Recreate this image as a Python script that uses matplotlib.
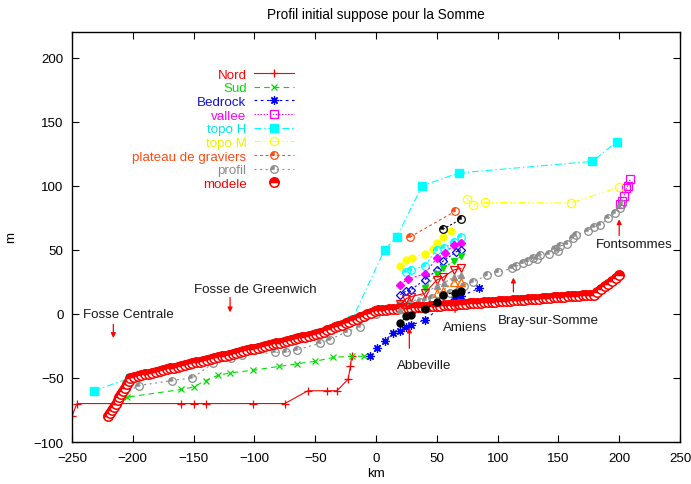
import numpy as np
import matplotlib
matplotlib.use("Agg")
import matplotlib.pyplot as plt
from matplotlib.path import Path
from matplotlib.legend_handler import HandlerTuple

plt.rcParams['font.family'] = ['Liberation Sans', 'DejaVu Sans']
plt.rcParams['font.size'] = 9.6
plt.rcParams['lines.scale_dashes'] = False

# ---------------- data (km along the valley, elevation in m) ----------------
nord_km = [-250, -246, -160, -150, -140, -101, -75, -56, -40, -32, -23, -21, -20]
nord_m = [-80, -70, -70, -70, -70, -70, -70, -60, -60, -60, -51, -41, -33]

sud_km = [-220, -205, -160, -150, -140, -130, -120, -101, -80, -65, -50, -35, -20, -10]
sud_m = [-80, -65, -59, -57, -52, -48, -46, -44, -41, -39, -37, -34, -33, -33]

bedrock_km = [-5, 1, 7, 14, 20, 25, 29, 40, 55, 65, 70, 85]
bedrock_m = [-33, -27, -21, -15, -13.5, -10, -9, -4.5, 6, 13.5, 14, 20]

vallee_km = [201, 202, 204, 206, 207, 209]
vallee_m = [86, 88, 92, 98, 100, 105]

topoH_km = [-232, -202, -46, -20, 7, 17, 38, 68, 178, 198]
topoH_m = [-60, -50, -15, -5, 50, 60, 100, 110, 119, 134.5]

topoM_km = [75, 80, 90, 160, 200]
topoM_m = [90, 85, 87, 86.5, 99]

plateau_km = [28, 65]
plateau_m = [60, 80]

profil_km = [-220, -210, -195, -168, -151, -134, -119, -110, -83, -74, -65, -46, -38,
             -24, -13, -9, 0, 10, 20, 28, 36, 41, 46, 55, 61, 68, 72, 80, 91, 100,
             112, 115, 121, 125, 129, 132, 135, 142, 147, 150, 151, 157, 162, 164.5,
             174, 179, 184, 191, 196.5, 200.5, 202]
profil_m = [-80, -64, -56, -52, -50, -38.5, -34.5, -32, -30, -30, -28, -23, -20,
            -14, -10, -1, 0, 4, 7, 8, 9.5, 11, 12.5, 15, 16, 19, 22, 25, 30, 32.5,
            35.5, 37, 40, 41, 44, 43, 46, 47, 51, 49, 53, 54.5, 59, 61.5,
            65, 68, 69.5, 74.5, 79, 83, 86]

# model profile, sampled every 1.5 km on the steep reach and every 3 km elsewhere
modele_km = np.concatenate([np.arange(-220, -201, 1.5), np.arange(-199, -45, 3),
                            np.arange(-43, 3, 3), np.arange(5, 180, 3),
                            np.arange(182, 201, 3)])
modele_m = [-80, -77.5, -75, -72.5, -70, -67.5, -65, -62.5, -60, -57.5, -55, -52.5, -50,
            -49.3, -48.7, -48.0, -47.3, -46.6, -46.0, -45.3, -44.6, -43.9, -43.3,
            -42.6, -41.9, -41.3, -40.6, -39.9, -39.2, -38.6, -37.9, -37.2, -36.5,
            -35.9, -35.2, -34.5, -33.8, -33.2, -32.5, -31.8, -31.2, -30.5, -29.8,
            -29.1, -28.5, -27.8, -27.1, -26.4, -25.8, -25.1, -24.4, -23.8, -23.1,
            -22.4, -21.7, -21.1, -20.4, -19.7, -19.0, -18.4, -17.7, -17.0, -16.3,
            -15.7, -15.0,
            -13.9, -12.8, -11.6, -10.5, -9.4, -8.3, -7.1, -6.0, -4.9, -3.8, -2.6,
            -1.5, -0.4, 0.8, 1.9, 3.0,
            3.2, 3.4, 3.6, 3.8, 4.0, 4.2, 4.4, 4.6, 4.8, 5.0,
            5.2, 5.4, 5.6, 5.8, 6.0, 6.3, 6.5, 6.7, 6.9, 7.1,
            7.3, 7.5, 7.7, 7.9, 8.1, 8.3, 8.5, 8.7, 8.9, 9.1,
            9.3, 9.5, 9.7, 9.9, 10.1, 10.3, 10.5, 10.7, 10.9, 11.1,
            11.3, 11.5, 11.7, 11.9, 12.2, 12.4, 12.6, 12.8, 13.0, 13.2,
            13.4, 13.6, 13.8, 14.0, 14.2, 14.4, 14.6, 14.8, 15.0,
            17.1, 19.3, 21.4, 23.6, 25.7, 27.9, 30.0]

# terrace levels surveyed between Abbeville and Amiens
t1_km = [20, 25, 30, 40, 47, 50, 55, 62]
t1_m = [37.5, 42, 44, 47, 51, 55, 60, 65]
t2_km = [25, 29, 40, 50, 56, 64, 70]
t2_m = [33, 34, 37.5, 50, 51.5, 56, 60]
t3_km = [20, 26, 40, 50, 57, 64, 70]
t3_m = [22.6, 27.3, 31, 43.5, 47.4, 53.8, 55.2]
t4_km = [20, 25, 29, 40, 50, 55, 66, 70]
t4_m = [15, 18, 19, 26.5, 34, 41, 48.5, 50]
t5_km = [40, 50, 55, 64, 70]
t5_m = [20, 31, 36, 41, 45]
t6_km = [20, 25, 29, 40, 50, 55, 64, 70]
t6_m = [7.6, 12, 13.5, 16, 26.5, 28.5, 34.3, 35.6]
t7_km = [20, 50, 56, 64, 70]
t7_m = [3, 22, 24, 29, 30]
t8_km = [50, 55, 64, 70]
t8_m = [16, 18, 25, 25]
t9_km = [20, 25, 29, 40, 50, 55, 65, 70]
t9_m = [-7, -2, -1, 4, 9, 15, 16.5, 18]
t10_km = [55, 70]
t10_m = [66, 74]

labels = ['Nord', 'Sud', 'Bedrock', 'vallee', 'topo H', 'topo M',
          'plateau de graviers', 'profil', 'modele']

# ---------------- styling ----------------
RED = '#ff0000'
GREEN = '#00dd00'
BLUE = '#0000ff'
MAGENTA = '#ff00ff'
CYAN = '#00ffff'
YELLOW = '#ffff00'
ORANGE = '#ff4a10'
GRAY = '#8c8c8c'
LW = 0.8
MS = 5.5

quarter = Path.wedge(90, 180)

fig = plt.figure(figsize=(6.91, 4.85), dpi=100)
ax = fig.add_axes([72 / 691, 42 / 485, 608 / 691, 410 / 485])


def dotted_circle(x, y, color, ls):
    ln, = ax.plot(x, y, color=color, lw=LW, ls=ls, marker='o', ms=MS,
                  mfc='none', mec=color, mew=0.9)
    wd, = ax.plot(x, y, ls='none', marker=quarter, ms=MS, mfc=color, mec=color, mew=0.3)
    return (ln, wd)


h_nord, = ax.plot(nord_km, nord_m, color=RED, lw=LW, ls='-', marker='+', ms=6, mew=0.9)
h_sud, = ax.plot(sud_km, sud_m, color=GREEN, lw=LW, ls=(0, (4, 3)), marker='x', ms=5, mew=0.9)
h_bed, = ax.plot(bedrock_km, bedrock_m, color=BLUE, lw=LW, ls=(0, (2, 2.5)),
                 marker=(8, 2, 0), ms=6, mew=0.9)
h_val, = ax.plot(vallee_km, vallee_m, color=MAGENTA, lw=LW, ls=(0, (1, 1.2)),
                 marker='s', ms=MS, mfc='none', mew=0.9)
h_th, = ax.plot(topoH_km, topoH_m, color=CYAN, lw=LW, ls=(0, (5, 2, 1, 2)),
                marker='s', ms=MS, mfc=CYAN, mec=CYAN)
h_tm, = ax.plot(topoM_km, topoM_m, color=YELLOW, lw=LW, ls=(0, (5, 2, 1, 2, 1, 2)),
                marker='o', ms=MS + 0.5, mfc='none', mew=0.9)
h_pl = dotted_circle(plateau_km, plateau_m, ORANGE, (0, (2, 2)))
h_pr = dotted_circle(profil_km, profil_m, GRAY, (0, (1.5, 2.5)))
h_mod, = ax.plot(modele_km, modele_m, ls='none', marker='o', ms=6.8, fillstyle='top',
                 mfc=RED, mfcalt='white', mec=RED, mew=1.1)

ax.plot(t1_km, t1_m, color=YELLOW, lw=LW, ls=(0, (1.5, 1.5)), marker='o', ms=5, mec=YELLOW)
dotted_circle(t2_km, t2_m, CYAN, (0, (1.5, 1.5)))
ax.plot(t3_km, t3_m, color=MAGENTA, lw=LW, ls=(0, (1.5, 1.5)), marker='D', ms=4.5)
ax.plot(t4_km, t4_m, color=BLUE, lw=LW, ls=(0, (1.5, 1.5)), marker='D', ms=4.5,
        mfc='none', mew=0.9)
ax.plot(t5_km, t5_m, color=GREEN, lw=LW, ls=(0, (1.5, 1.5)), marker='v', ms=5)
ax.plot(t6_km, t6_m, color=RED, lw=LW, ls='-', marker='v', ms=5.5, mfc='none', mew=0.9)
ax.plot(t7_km, t7_m, color='#909090', lw=LW, ls=(0, (1.5, 1.5)), marker='^', ms=5)
ax.plot(t8_km, t8_m, color='#ff6a00', lw=LW, ls=(0, (1.5, 1.5)), marker='^', ms=5.5,
        mfc='none', mew=0.9)
ax.plot(t9_km, t9_m, color='black', lw=LW, ls=(0, (1.5, 1.5)), marker='o', ms=5)
dotted_circle(t10_km, t10_m, 'black', (0, (1.5, 1.5)))

# place names with arrows
arrow = dict(arrowstyle='-|>', color=RED, lw=0.9, mutation_scale=7)
TXT = '#1a1a1a'
places = [
    ('Fosse Centrale', -241, 0, -216, -6, -216, -21),
    ('Fosse de Greenwich', -150, 19.3, -120, 15, -120, -1),
    ('Abbeville', 17.3, -40, 27.4, -29, 27.4, -8.5),
    ('Amiens', 55.4, -10.4, 65, -1, 65, 12.5),
    ('Bray-sur-Somme', 100.6, -4.7, 113, 15, 113, 30.5),
    ('Fontsommes', 181, 54.4, 200, 59, 200, 76),
]
for name, tx, ty, ax0, ay0, ax1, ay1 in places:
    ax.text(tx, ty, name, ha='left', va='center', color=TXT)
    ax.annotate('', xy=(ax1, ay1), xytext=(ax0, ay0), arrowprops=arrow)

ax.set_xlim(-250, 250)
ax.set_ylim(-100, 220)
ax.set_xticks(np.arange(-250, 251, 50))
ax.set_yticks(np.arange(-100, 201, 50))
ax.tick_params(direction='in', length=5, width=0.8, top=True, right=True,
               labeltop=False, labelright=False, pad=6, colors='black')
ax.tick_params(axis='x', pad=7.5)
for s in ax.spines.values():
    s.set_linewidth(1.0)
    s.set_color('black')

ax.set_title('Profil initial suppose pour la Somme', fontsize=9.8, pad=10)
ax.set_xlabel('km')
ax.set_ylabel('m')
ax.xaxis.set_label_coords(0.5, -0.062)
ax.yaxis.set_label_coords(-0.0905, 0.5)

handles = [h_nord, h_sud, h_bed, h_val, h_th, h_tm, h_pl, h_pr, h_mod]
leg = ax.legend(handles, labels, loc='upper left', bbox_to_anchor=(0.0995, 0.911),
                markerfirst=False, frameon=False, handlelength=3.0, handletextpad=0.55,
                labelspacing=0.1, borderpad=0, borderaxespad=0,
                handler_map={tuple: HandlerTuple(ndivide=1)})
text_colors = [RED, '#00e000', '#1010e0', MAGENTA, '#00e8e8', '#f0f000', ORANGE,
               '#8c8c8c', RED]
for t, c in zip(leg.get_texts(), text_colors):
    t.set_color(c)

fig.savefig('out.png', dpi=100)
